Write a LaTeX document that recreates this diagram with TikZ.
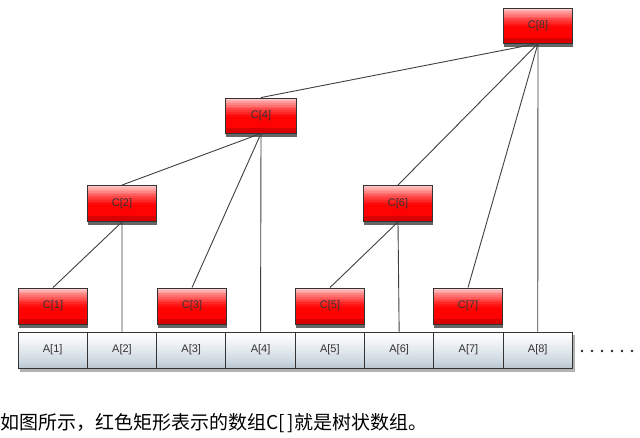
\documentclass[tikz,border=0pt]{standalone}
\usepackage{fontspec}
\setmainfont{Liberation Sans}
\newfontfamily\cjk{Noto Sans CJK SC}
\usetikzlibrary{calc,backgrounds}
\definecolor{abot}{HTML}{BCCAD4}
\tikzset{
  cgrad/.style={path picture={
    \foreach \k in {0,...,19}{
      \pgfmathtruncatemacro\p{100-78*(max((\k-8)/11,0.001))^1.3}
      \ifnum\k<3 \colorlet{bandc}{red!85!black}\else\colorlet{bandc}{red!\p!white}\fi
      \fill[bandc] ($(path picture bounding box.south west)!{\k/20}!(path picture bounding box.north west)$) rectangle ($(path picture bounding box.south east)!{(\k+1.1)/20}!(path picture bounding box.north east)$);
    }}},
  agrad/.style={path picture={
    \foreach \k in {0,...,19}{
      \pgfmathtruncatemacro\p{100-100*(max(\k/19,0.001))^0.8}
      \fill[abot!\p!white] ($(path picture bounding box.south west)!{\k/20}!(path picture bounding box.north west)$) rectangle ($(path picture bounding box.south east)!{(\k+1.1)/20}!(path picture bounding box.north east)$);
    }}},
  cbox/.style={draw=black!80, line width=0.9pt, minimum width=69pt, minimum height=36pt,
    cgrad, font=\fontsize{11}{12}\selectfont, text=black!80},
  abox/.style={draw=black!80, line width=0.9pt, minimum width=69.3pt, minimum height=36pt,
    agrad, font=\fontsize{11}{12}\selectfont, text=black!80},
  link/.style={draw=black!75, line width=0.9pt},
  cshadow/.style={fill=black!60},
  ashadow/.style={fill=black!30}
}
\begin{document}
\begin{tikzpicture}[x=1pt,y=1pt]
\useasboundingbox (0,0) rectangle (640,437);
% A row
\foreach \i in {1,...,8} {
  \node[abox] (A\i) at ({18+69.3*(\i-1)+34.65},87) {A[\i]};
}
% C nodes
\node[cbox] (C1) at (53,131) {C[1]};
\node[cbox] (C3) at (192,131) {C[3]};
\node[cbox] (C5) at (330,131) {C[5]};
\node[cbox] (C7) at (468,131) {C[7]};
\node[cbox] (C2) at (122,233.5) {C[2]};
\node[cbox] (C6) at (398,233.5) {C[6]};
\node[cbox, minimum width=71pt, minimum height=35pt] (C4) at (261,321.5) {C[4]};
\node[cbox, minimum height=35pt] (C8) at (538,411.5) {C[8]};
% links
\draw[link] (C2.south) -- (C1.north);
\draw[link] (C2.south) -- (A2.north);
\draw[link] (C4.south) -- (C2.north);
\draw[link] (C4.south) -- (C3.north);
\draw[link] (C4.south) -- (A4.north);
\draw[link] (C6.south) -- (C5.north);
\draw[link] (C6.south) -- (A6.north);
\draw[link] (C8.south) -- (C4.north);
\draw[link] (C8.south) -- (C6.north);
\draw[link] (C8.south) -- (C7.north);
\draw[link] (C8.south) -- (A8.north);
% shadows
\begin{pgfonlayer}{background}
  \fill[white] (0,0) rectangle (640,437);
  \foreach \n in {C1,C2,C3,C4,C5,C6,C7,C8} {
    \fill[cshadow] ($(\n.south west)+(0.5,-3.5)$) rectangle ($(\n.north east)+(0.5,-3.5)$);
  }
  \fill[ashadow] ($(A1.south west)+(2,-3.5)$) rectangle ($(A8.north east)+(2,-3.5)$);
\end{pgfonlayer}
% dots
\foreach \k in {0,...,5} {
  \fill[black!85] ({582+10*\k},86) circle (1.4pt);
}
% caption
\node[anchor=west, inner sep=0pt, font=\cjk\fontsize{19}{21}\selectfont] (cap) at (0,14) {如图所示，红色矩形表示的数组C[\,]就是树状数组。};
\end{tikzpicture}
\end{document}
